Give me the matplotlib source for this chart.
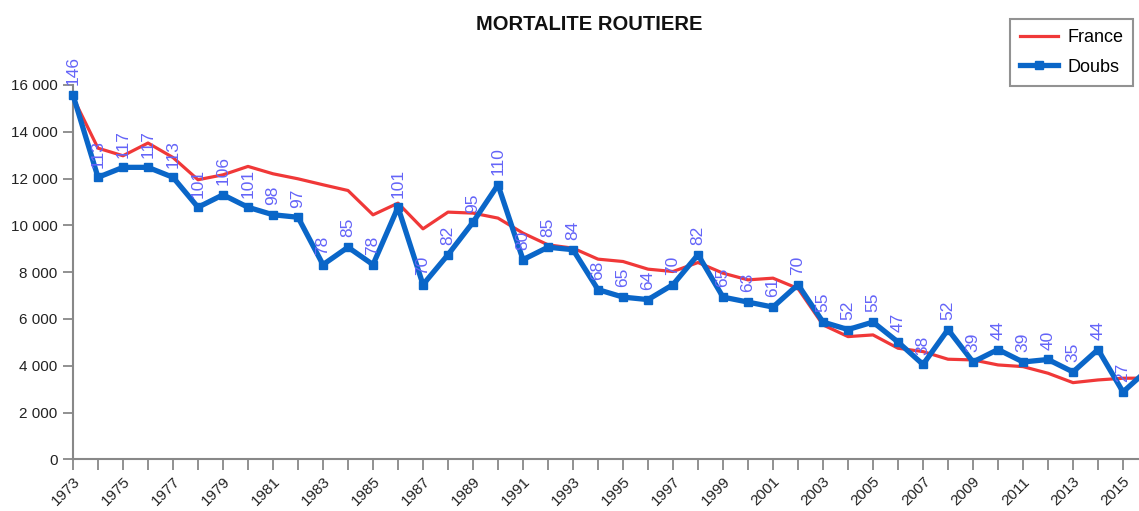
import matplotlib
matplotlib.use("Agg")
import matplotlib.pyplot as plt
from matplotlib.ticker import FuncFormatter

plt.rcParams['font.family'] = ['Liberation Sans', 'DejaVu Sans']

years = list(range(1973, 2017))
france = [15470, 13300, 12975, 13520, 12900, 11950, 12160, 12520, 12205, 11990,
          11735, 11490, 10450, 10950, 9852, 10566, 10524, 10310, 9668, 9168,
          9026, 8556, 8455, 8128, 8027, 8412, 7957, 7670, 7743, 7300,
          5745, 5245, 5317, 4748, 4604, 4278, 4248, 4034, 3962, 3679,
          3277, 3392, 3465, 3470]
doubs = [146, 113, 117, 117, 113, 101, 106, 101, 98, 97,
         78, 85, 78, 101, 70, 82, 95, 110, 80, 85,
         84, 68, 65, 64, 70, 82, 65, 63, 61, 70,
         55, 52, 55, 47, 38, 52, 39, 44, 39, 40,
         35, 44, 27, 36]

fig = plt.figure(figsize=(11.39, 5.11), dpi=100)
ax = fig.add_axes([73/1139, 51.7/511, 1066/1139, 374.3/511])

ln1, = ax.plot(years, france, color='#f03838', lw=2.3, label='France', zorder=2)
xmax = 1973 + 1066/25
ax.set_xlim(1973, xmax)
ax.set_ylim(0, 16000)
ax.yaxis.set_major_formatter(FuncFormatter(lambda v, p: f"{int(v):,}".replace(",", " ")))
ax.set_yticks(range(0, 16001, 2000))
ax.set_xticks(years[:-1])
ax.set_xticklabels([str(y) if y % 2 == 1 else '' for y in years[:-1]],
                   rotation=45, ha='right', rotation_mode='anchor')

for s in ['top', 'right']:
    ax.spines[s].set_visible(False)
for s in ['left', 'bottom']:
    ax.spines[s].set_color('#888888')
    ax.spines[s].set_linewidth(1.5)
ax.tick_params(axis='x', length=8, width=1.3, color='#888888', labelsize=11,
               labelcolor='#222222', pad=3)
ax.tick_params(axis='y', length=7, width=1.3, color='#888888', labelsize=11,
               labelcolor='#222222', pad=4)

ax2 = ax.twinx()
ax2.set_ylim(0, 150)
ax2.set_axis_off()
ln2, = ax2.plot(years, doubs, color='#0a66c8', lw=3.8, marker='s', ms=6,
                label='Doubs', clip_on=False, zorder=3)
for y, v in zip(years, doubs):
    if y > xmax:
        continue  # point lies past the right edge, its label is not shown
    ax2.annotate(str(v), (y, v), xytext=(0, 7), textcoords='offset points',
                 rotation=90, ha='center', va='bottom', fontsize=12.5,
                 color='#6464f8', zorder=4)

fig.text(589/1139, 1 - 25/511, 'MORTALITE ROUTIERE', ha='center', va='center',
         fontsize=14.5, fontweight='bold', color='#111111')

leg = fig.legend(handles=[ln1, ln2], loc='upper right',
                 bbox_to_anchor=(1133/1139, 1 - 19/511), bbox_transform=fig.transFigure,
                 borderaxespad=0, fontsize=13, fancybox=False, handlelength=2.1,
                 borderpad=0.55, labelspacing=0.7, handletextpad=0.5)
leg.get_frame().set_edgecolor('#777777')
leg.get_frame().set_linewidth(1.5)

fig.savefig('out.png', dpi=100)
